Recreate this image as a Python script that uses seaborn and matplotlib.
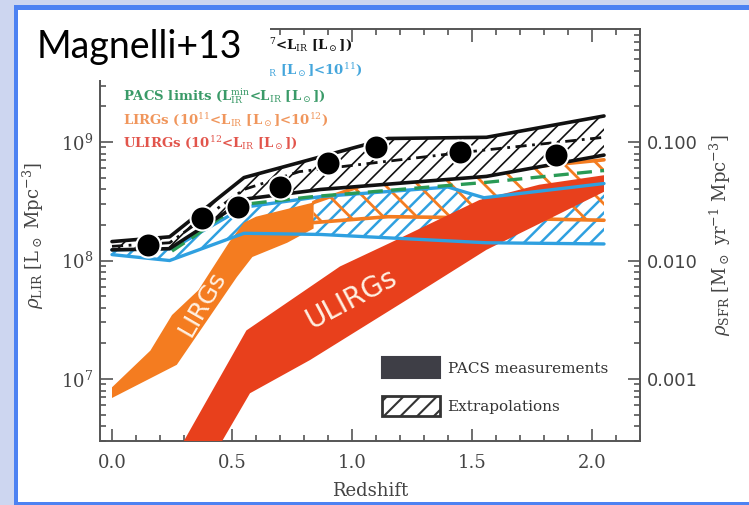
import numpy as np
import matplotlib
matplotlib.use("Agg")
import matplotlib.pyplot as plt
from matplotlib.patches import Rectangle, Patch
from matplotlib.ticker import MultipleLocator, FixedLocator, LogLocator, NullFormatter, FormatStrFormatter
import seaborn as sns

# ---------------- data (log10 rho_LIR [Lsun Mpc^-3]) ----------------
pts_z = [0.15, 0.375, 0.525, 0.70, 0.90, 1.10, 1.45, 1.85]
pts_log = [8.13, 8.36, 8.45, 8.62, 8.82, 8.96, 8.92, 8.89]

tot_up_z = [0.0, 0.24, 0.55, 1.15, 1.56, 2.05]
tot_up_log = [8.16, 8.20, 8.70, 9.03, 9.04, 9.22]
tot_lo_z = [0.0, 0.24, 0.56, 0.87, 1.56, 2.05]
tot_lo_log = [8.09, 8.10, 8.52, 8.60, 8.71, 8.89]
tot_mid_z = [0.0, 0.24, 0.55, 0.78, 1.45, 2.05]
tot_mid_log = [8.12, 8.15, 8.60, 8.75, 8.91, 9.04]

norm_up_z = [0.0, 0.25, 0.55, 0.87, 1.40, 1.55, 2.05]
norm_up_log = [8.09, 8.10, 8.45, 8.54, 8.62, 8.53, 8.65]
norm_lo_z = [0.0, 0.24, 0.55, 0.87, 1.56, 2.05]
norm_lo_log = [8.05, 8.00, 8.23, 8.22, 8.15, 8.14]

lim_z = [0.25, 0.35, 0.45, 0.575, 0.84, 1.56, 2.05]
lim_log = [8.08, 8.215, 8.36, 8.48, 8.54, 8.66, 8.76]

lirg_up_z = [0.0, 0.16, 0.25, 0.36, 0.49, 0.55, 0.60, 0.84]
lirg_up_log = [6.93, 7.24, 7.54, 7.75, 8.16, 8.32, 8.37, 8.49]
lirg_lo_z = [0.0, 0.27, 0.52, 0.585, 0.73, 0.84]
lirg_lo_log = [6.84, 7.12, 7.86, 8.03, 8.15, 8.27]

lirgx_z = [0.84, 1.15, 1.55, 2.05]
lirgx_up_log = [8.49, 8.71, 8.75, 8.85]
lirgx_lo_log = [8.32, 8.37, 8.36, 8.34]

ulirg_up_z = [0.25, 0.56, 0.95, 1.16, 1.53, 1.78, 2.05]
ulirg_up_log = [6.30, 7.41, 7.95, 8.15, 8.51, 8.64, 8.72]
ulirg_lo_z = [0.40, 0.46, 0.575, 0.825, 1.23, 1.56, 2.05]
ulirg_lo_log = [6.25, 6.48, 6.88, 7.16, 7.67, 8.09, 8.58]

sfr_ticks = [0.001, 0.010, 0.100]
x_ticks = [0.0, 0.5, 1.0, 1.5, 2.0]

# ---------------- style ----------------
sns.set_style("ticks")
plt.rcParams["font.family"] = ["DejaVu Serif"]
plt.rcParams["mathtext.fontset"] = "dejavuserif"
plt.rcParams["hatch.linewidth"] = 1.5

C_BLACK = "#111111"
C_BLUE = "#2fa0e0"
C_GREEN = "#2a9a55"
C_ORANGE = "#f47c20"
C_RED = "#e8401c"
C_GRAY = "#555555"

W, H = 749, 505
fig = plt.figure(figsize=(W / 100, H / 100), dpi=100)
fig.patch.set_facecolor("#cdd6f0")


def fx(px):
    return px / W


def fy(py):
    return 1 - py / H


# slide frame
fig.patches.append(Rectangle((fx(14), fy(505)), 1, fy(5) - fy(505), transform=fig.transFigure,
                             facecolor="#4d82f2", edgecolor="none", zorder=-3))
fig.patches.append(Rectangle((fx(18), fy(502)), 1, fy(10) - fy(502), transform=fig.transFigure,
                             facecolor="white", edgecolor="none", zorder=-2))

ax = fig.add_axes([fx(100), fy(441), fx(640) - fx(100), fy(29) - fy(441)])
ax.set_facecolor("none")
ax.set_yscale("log")


def L(a):
    return 10 ** np.asarray(a, dtype=float)


def band(zu, lu, zl, ll, hlw=None, **kw):
    xs = list(zu) + list(zl)[::-1]
    ys = list(L(lu)) + list(L(ll))[::-1]
    poly = ax.fill(xs, ys, **kw)[0]
    if hlw is not None:
        try:
            poly.set_hatch_linewidth(hlw)
        except Exception:
            pass
    return poly


# normal galaxies (hatched blue)
band(norm_up_z, norm_up_log, norm_lo_z, norm_lo_log, hlw=1.8, facecolor="none",
     edgecolor=C_BLUE, hatch="//", lw=0, zorder=2)
# LIRGs measured (solid)
band(lirg_up_z, lirg_up_log, lirg_lo_z, lirg_lo_log, facecolor=C_ORANGE,
     edgecolor="none", lw=0, zorder=3)
# LIRGs extrapolated (hatched)
band(lirgx_z, lirgx_up_log, lirgx_z, lirgx_lo_log, hlw=2.0, facecolor="none",
     edgecolor=C_ORANGE, hatch="\\", lw=0, zorder=3)
sns.lineplot(x=lirgx_z, y=L(lirgx_up_log), ax=ax, color=C_ORANGE, lw=2.6, zorder=3.5)
sns.lineplot(x=lirgx_z, y=L(lirgx_lo_log), ax=ax, color=C_ORANGE, lw=2.6, zorder=3.5)
# ULIRGs (solid red)
band(ulirg_up_z, ulirg_up_log, ulirg_lo_z, ulirg_lo_log, facecolor=C_RED,
     edgecolor="none", lw=0, zorder=4)
# blue boundary lines
sns.lineplot(x=norm_up_z, y=L(norm_up_log), ax=ax, color=C_BLUE, lw=2.4, zorder=6)
sns.lineplot(x=norm_lo_z, y=L(norm_lo_log), ax=ax, color=C_BLUE, lw=2.4, zorder=6)
# PACS limits
sns.lineplot(x=lim_z, y=L(lim_log), ax=ax, color=C_GREEN, lw=2.4, linestyle=(0, (4.5, 2.5)), zorder=7)
# total band (hatched)
band(tot_up_z, tot_up_log, tot_lo_z, tot_lo_log, hlw=1.2, facecolor="white",
     edgecolor=C_BLACK, hatch="//", lw=0, zorder=8)
sns.lineplot(x=tot_up_z, y=L(tot_up_log), ax=ax, color=C_BLACK, lw=2.6, zorder=9)
sns.lineplot(x=tot_lo_z, y=L(tot_lo_log), ax=ax, color=C_BLACK, lw=2.6, zorder=9)
sns.lineplot(x=tot_mid_z, y=L(tot_mid_log), ax=ax, color=C_BLACK, lw=2.0,
             linestyle=(0, (4, 2, 1, 2)), zorder=9)
# data points
sns.scatterplot(x=pts_z, y=L(pts_log), ax=ax, s=300, color="black", edgecolor="white",
                linewidth=1.5, zorder=10)

# band labels
ax.text(0.375, L(7.64), "LIRGs", rotation=60, ha="center", va="center", color="#fff0e2",
        fontsize=18, family="DejaVu Sans", zorder=11)
ax.text(1.0, L(7.68), "ULIRGs", rotation=28, ha="center", va="center", color="#fff0e2",
        fontsize=20, family="DejaVu Sans", zorder=11)

# axes limits / ticks
ylo, yhi = L(6.477), L(9.954)
ax.set_xlim(-0.05, 2.2)
ax.set_ylim(ylo, yhi)
ax.xaxis.set_major_locator(FixedLocator(x_ticks))
ax.xaxis.set_minor_locator(MultipleLocator(0.1))
ax.xaxis.set_major_formatter(FormatStrFormatter("%.1f"))
ax.yaxis.set_major_locator(LogLocator(base=10))
ax.yaxis.set_minor_locator(LogLocator(base=10, subs=np.arange(2, 10)))
ax.yaxis.set_minor_formatter(NullFormatter())
ax.tick_params(which="both", direction="in", top=True, right=False, color=C_GRAY, width=1.2)
ax.tick_params(which="major", length=9, labelsize=13, labelcolor="#444444")
ax.tick_params(which="minor", length=4.5)
ax.tick_params(axis="x", pad=9)
ax.tick_params(axis="y", pad=5)
for s in ax.spines.values():
    s.set_color(C_GRAY)
    s.set_linewidth(1.4)

ax.set_xlabel("Redshift", fontsize=13, color="#444444")
ax.xaxis.set_label_coords(0.5, -0.1)
ax.set_ylabel(r"$\rho_{\rm LIR}$ [L$_\odot$ Mpc$^{-3}$]", fontsize=13, color="#444444")
ax.yaxis.set_label_coords(-0.1, 0.5)

ax2 = ax.twinx()
ax2.set_yscale("log")
ax2.set_ylim(ylo * 1e-10, yhi * 1e-10)
ax2.yaxis.set_major_locator(FixedLocator(sfr_ticks))
ax2.yaxis.set_major_formatter(FormatStrFormatter("%.3f"))
ax2.yaxis.set_minor_locator(LogLocator(base=10, subs=np.arange(2, 10)))
ax2.yaxis.set_minor_formatter(NullFormatter())
ax2.tick_params(which="both", direction="in", color=C_GRAY, width=1.2)
ax2.tick_params(which="major", length=9, labelsize=13, labelcolor="#444444", pad=5)
ax2.tick_params(which="minor", length=4.5)
for lab in ax2.get_yticklabels():
    lab.set_family("DejaVu Sans")
for s in ax2.spines.values():
    s.set_visible(False)
ax2.set_ylabel(r"$\rho_{\rm SFR}$ [M$_\odot$ yr$^{-1}$ Mpc$^{-3}$]", fontsize=13, color="#444444")
ax2.yaxis.set_label_coords(1.125, 0.5)

# legend of fill styles
handles = [Patch(facecolor="#3e3e46", edgecolor="#3e3e46", lw=1.5),
           Patch(facecolor="white", edgecolor="#333333", hatch="//", lw=2)]
leg = ax2.legend(handles, ["PACS measurements", "Extrapolations"], loc="lower left",
                 bbox_to_anchor=(0.522, 0.06), frameon=False, fontsize=11,
                 handlelength=3.8, handleheight=1.7, handletextpad=0.5,
                 labelspacing=1.15, borderpad=0, borderaxespad=0)
for t in leg.get_texts():
    t.set_color("#333333")

# coloured text key (upper left); first two lines partly hidden by the title box
key_kw = dict(fontsize=9.5, fontweight="bold", va="center")
fig.text(fx(352), fy(45), r"0$^{7}$<L$_{\rm IR}$ [L$_\odot$])", ha="right",
         color=C_BLACK, **key_kw)
fig.text(fx(362), fy(70), r"L$_{\rm IR}$ [L$_\odot$]<10$^{11}$)", ha="right",
         color="#45a6dc", **key_kw)
fig.text(fx(123), fy(96), r"PACS limits (L$_{\rm IR}^{\rm min}$<L$_{\rm IR}$ [L$_\odot$])",
         ha="left", color="#3a9a68", **key_kw)
fig.text(fx(123), fy(120), r"LIRGs (10$^{11}$<L$_{\rm IR}$ [L$_\odot$]<10$^{12}$)",
         ha="left", color="#f0965c", **key_kw)
fig.text(fx(123), fy(143), r"ULIRGs (10$^{12}$<L$_{\rm IR}$ [L$_\odot$])",
         ha="left", color="#e2554c", **key_kw)

# title box
fig.patches.append(Rectangle((fx(18), fy(80)), fx(270) - fx(18), fy(10) - fy(80),
                             transform=fig.transFigure, facecolor="white", edgecolor="none", zorder=20))
fig.text(fx(37), fy(47), "Magnelli+13", fontsize=27, family="Lato", va="center", ha="left",
         color="black", zorder=21)

fig.savefig("out.png", dpi=100)
